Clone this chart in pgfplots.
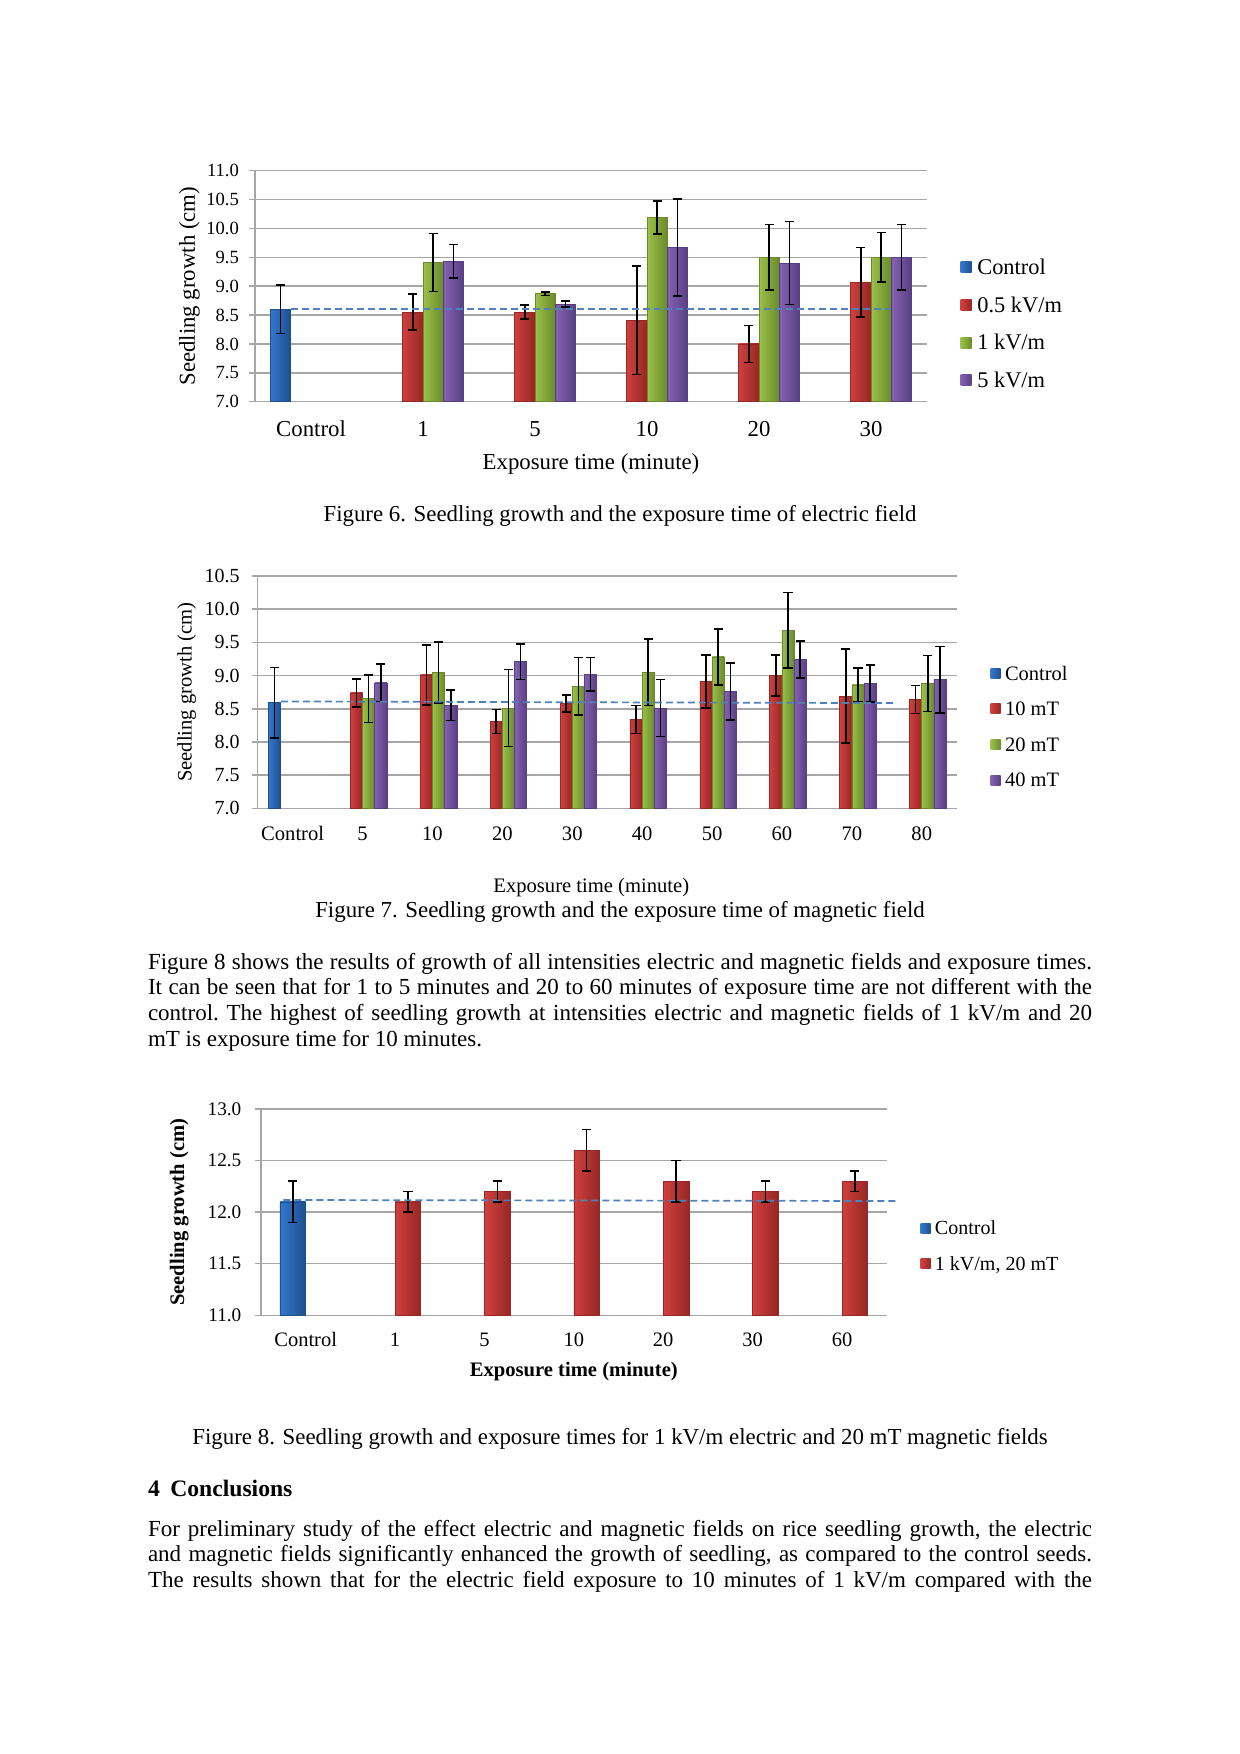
\documentclass[border=0pt]{standalone}
\usepackage{fontspec}
\setmainfont{Liberation Serif}
\usepackage{pgfplots}
\pgfplotsset{compat=1.18}

\definecolor{gridgray}{HTML}{A6A6A6}
\definecolor{dashblue}{HTML}{4F81BD}
\definecolor{bluemid}{HTML}{3478CC}
\definecolor{bluelight}{HTML}{6AA8EE}
\definecolor{bluedark}{HTML}{1D4F8F}
\definecolor{redmid}{HTML}{D0403E}
\definecolor{redlight}{HTML}{EA6B69}
\definecolor{reddark}{HTML}{962725}
\definecolor{greenmid}{HTML}{9BC04A}
\definecolor{greenlight}{HTML}{C0DF7A}
\definecolor{greendark}{HTML}{6A8A2A}
\definecolor{purplemid}{HTML}{8462B0}
\definecolor{purplelight}{HTML}{A98BD2}
\definecolor{purpledark}{HTML}{5A3E84}

\tikzset{
  bblue/.style={draw=bluedark, line width=0.3pt, left color=bluemid, middle color=bluelight, right color=bluedark},
  bred/.style={draw=reddark, line width=0.3pt, left color=redmid, middle color=redlight, right color=reddark},
  bgreen/.style={draw=greendark, line width=0.3pt, left color=greenmid, middle color=greenlight, right color=greendark},
  bpurple/.style={draw=purpledark, line width=0.3pt, left color=purplemid, middle color=purplelight, right color=purpledark},
}

\pgfplotsset{
  pagechart/.style={
    scale only axis, anchor=south west,
    axis x line*=bottom, axis y line*=left,
    axis line style={draw=gridgray, line width=0.75pt},
    ymajorgrids, major grid style={draw=gridgray, line width=0.75pt},
    tick align=outside, major tick length=2.8pt,
    xtick style={draw=none}, ytick style={draw=gridgray, line width=0.75pt},
    ybar=0pt, clip=false,
    yticklabel style={/pgf/number format/fixed, /pgf/number format/fixed zerofill, /pgf/number format/precision=1, /pgf/number format/assume math mode=true},
    legend cell align=left,
    legend style={draw=none, fill=none, inner sep=0pt, outer sep=0pt, row sep=0pt},
  },
  eb/.style={error bars/y dir=both, error bars/y explicit,
    error bars/error bar style={black, line width=0.8pt},
    error bars/error mark options={black, rotate=90, mark size=2.3pt, line width=0.8pt}},
  sqA/.style={legend image code/.code={\path[##1,draw=none] (0pt,-2.75pt) rectangle (5.5pt,2.75pt);}},
  sqB/.style={legend image code/.code={\path[##1,draw=none] (0pt,-2.5pt) rectangle (5pt,2.5pt);}},
  dline/.style={sharp plot, no markers, forget plot, draw=dashblue, line width=0.85pt, dash pattern=on 3.5pt off 2pt},
}

\begin{document}
\begin{tikzpicture}
\fill[white] (0pt,0pt) rectangle (620pt,-877pt);
\path[use as bounding box] (0pt,0pt) rectangle (620pt,-877pt);

% ---------------- Figure 6 ----------------
\begin{axis}[pagechart,
  at={(127.5pt,-200.85pt)},
  width=336pt, height=115.5pt,
  xmin=-0.5, xmax=5.5, ymin=7, ymax=11, ytick={7,7.5,8,8.5,9,9.5,10,10.5,11},
  xtick={0,1,2,3,4,5}, xticklabels={Control,1,5,10,20,30},
  bar width=10.15pt,
  s0/.style={bblue, bar shift=-15.225pt}, s1/.style={bred, bar shift=-5.075pt},
  s2/.style={bgreen, bar shift=5.075pt}, s3/.style={bpurple, bar shift=15.225pt},
  yticklabel style={font=\fontsize{9.3}{11}\selectfont, anchor=east, inner sep=0pt, xshift=-5.05pt},
  xticklabel style={font=\fontsize{11.4}{13}\selectfont, anchor=base, inner sep=0pt, yshift=-14.35pt},
  ylabel={Seedling growth (cm)}, xlabel={Exposure time (minute)},
  label style={font=\fontsize{11.4}{13}\selectfont},
  y label style={at={([xshift=-32.85pt]axis description cs:0,0.5)}, anchor=center, inner sep=0pt},
  x label style={at={([yshift=-33.65pt]axis description cs:0.5,0)}, anchor=base, inner sep=0pt},
  legend style={at={([xshift=16.85pt,yshift=-38.9pt]rel axis cs:1,1)}, anchor=north west,
    font=\fontsize{11.2}{13}\selectfont, column sep=2.8pt,
    nodes={inner sep=0pt, text height=13.1pt, text depth=5.7pt}},
]
\addplot[s0, sqA, eb] coordinates {(0,8.60) +- (0,0.42)};
\addlegendentry{Control}
\addplot[s1, sqA, eb] coordinates {(1,8.55) +- (0,0.31)};
\addlegendentry{0.5 kV/m}
\addplot[s2, sqA, eb] coordinates {(1,9.41) +- (0,0.50)};
\addlegendentry{1 kV/m}
\addplot[s3, sqA, eb] coordinates {(1,9.43) +- (0,0.29)};
\addlegendentry{5 kV/m}
% 0.5 kV/m
\addplot[s1, eb, forget plot] coordinates {(2,8.55) +- (0,0.12)};
\addplot[s1, eb, forget plot] coordinates {(3,8.41) +- (0,0.94)};
\addplot[s1, eb, forget plot] coordinates {(4,8.00) +- (0,0.32)};
\addplot[s1, eb, forget plot] coordinates {(5,9.07) +- (0,0.60)};
% 1 kV/m
\addplot[s2, eb, forget plot] coordinates {(2,8.87) +- (0,0.03)};
\addplot[s2, eb, forget plot] coordinates {(3,10.19) +- (0,0.29)};
\addplot[s2, eb, forget plot] coordinates {(4,9.50) +- (0,0.57)};
\addplot[s2, eb, forget plot] coordinates {(5,9.50) +- (0,0.43)};
% 5 kV/m
\addplot[s3, eb, forget plot] coordinates {(2,8.69) +- (0,0.05)};
\addplot[s3, eb, forget plot] coordinates {(3,9.67) +- (0,0.84)};
\addplot[s3, eb, forget plot] coordinates {(4,9.40) +- (0,0.72)};
\addplot[s3, eb, forget plot] coordinates {(5,9.50) +- (0,0.57)};
\addplot[dline] coordinates {(-0.18,8.60) (5.17,8.60)};
\end{axis}

\node[anchor=base, inner sep=0pt, font=\fontsize{11.43}{14}\selectfont] at (310pt,-260.8pt)
  {Figure 6. Seedling growth and the exposure time of electric field};

% ---------------- Figure 7 ----------------
\begin{axis}[pagechart,
  at={(128.85pt,-404.15pt)},
  width=349.5pt, height=116.15pt,
  xmin=-0.5, xmax=9.5, ymin=7, ymax=10.5, ytick={7,7.5,8,8.5,9,9.5,10,10.5},
  xtick={0,1,2,3,4,5,6,7,8,9}, xticklabels={Control,5,10,20,30,40,50,60,70,80},
  bar width=6.1pt,
  s0/.style={bblue, bar shift=-9.15pt}, s1/.style={bred, bar shift=-3.05pt},
  s2/.style={bgreen, bar shift=3.05pt}, s3/.style={bpurple, bar shift=9.15pt},
  yticklabel style={font=\fontsize{10}{12}\selectfont, anchor=east, inner sep=0pt, xshift=-6.05pt},
  xticklabel style={font=\fontsize{10.3}{12}\selectfont, anchor=base, inner sep=0pt, yshift=-13.05pt},
  ylabel={Seedling growth (cm)}, xlabel={Exposure time (minute)},
  label style={font=\fontsize{10.3}{12}\selectfont},
  y label style={at={([xshift=-35.5pt]axis description cs:0,0.5)}, anchor=center, inner sep=0pt},
  x label style={at={([xshift=-7.95pt,yshift=-42.2pt]axis description cs:0.5,0)}, anchor=base, inner sep=0pt},
  legend style={at={([xshift=17pt,yshift=-39.75pt]rel axis cs:1,1)}, anchor=north west,
    font=\fontsize{10.25}{12}\selectfont, column sep=2.15pt,
    nodes={inner sep=0pt, text height=12.3pt, text depth=5.5pt}},
]
\addplot[s0, sqB, eb] coordinates {(0,8.59) +- (0,0.53)};
\addlegendentry{Control}
\addplot[s1, sqB, eb] coordinates {(1,8.74) +- (0,0.21)};
\addlegendentry{10 mT}
\addplot[s2, sqB, eb] coordinates {(1,8.65) +- (0,0.36)};
\addlegendentry{20 mT}
\addplot[s3, sqB, eb] coordinates {(1,8.89) +- (0,0.28)};
\addlegendentry{40 mT}
% 10 mT
\addplot[s1, eb, forget plot] coordinates {(2,9.01) +- (0,0.45)};
\addplot[s1, eb, forget plot] coordinates {(3,8.31) +- (0,0.18)};
\addplot[s1, eb, forget plot] coordinates {(4,8.58) +- (0,0.13)};
\addplot[s1, eb, forget plot] coordinates {(5,8.34) +- (0,0.21)};
\addplot[s1, eb, forget plot] coordinates {(6,8.91) +- (0,0.40)};
\addplot[s1, eb, forget plot] coordinates {(7,9.00) +- (0,0.31)};
\addplot[s1, eb, forget plot] coordinates {(8,8.69) +- (0,0.71)};
\addplot[s1, eb, forget plot] coordinates {(9,8.64) +- (0,0.21)};
% 20 mT
\addplot[s2, eb, forget plot] coordinates {(2,9.05) +- (0,0.46)};
\addplot[s2, eb, forget plot] coordinates {(3,8.51) +- (0,0.58)};
\addplot[s2, eb, forget plot] coordinates {(4,8.84) +- (0,0.43)};
\addplot[s2, eb, forget plot] coordinates {(5,9.05) +- (0,0.50)};
\addplot[s2, eb, forget plot] coordinates {(6,9.28) +- (0,0.42)};
\addplot[s2, eb, forget plot] coordinates {(7,9.68) +- (0,0.57)};
\addplot[s2, eb, forget plot] coordinates {(8,8.86) +- (0,0.25)};
\addplot[s2, eb, forget plot] coordinates {(9,8.88) +- (0,0.42)};
% 40 mT
\addplot[s3, eb, forget plot] coordinates {(2,8.55) +- (0,0.23)};
\addplot[s3, eb, forget plot] coordinates {(3,9.21) +- (0,0.27)};
\addplot[s3, eb, forget plot] coordinates {(4,9.02) +- (0,0.25)};
\addplot[s3, eb, forget plot] coordinates {(5,8.51) +- (0,0.43)};
\addplot[s3, eb, forget plot] coordinates {(6,8.76) +- (0,0.43)};
\addplot[s3, eb, forget plot] coordinates {(7,9.24) +- (0,0.28)};
\addplot[s3, eb, forget plot] coordinates {(8,8.88) +- (0,0.28)};
\addplot[s3, eb, forget plot] coordinates {(9,8.94) +- (0,0.50)};
\addplot[dline] coordinates {(-0.17,8.61) (8.64,8.585)};
\end{axis}

\node[anchor=base, inner sep=0pt, font=\fontsize{11.43}{14}\selectfont] at (310pt,-458.5pt)
  {Figure 7. Seedling growth and the exposure time of magnetic field};

% ---------------- Paragraph ----------------
\node[anchor=base west, inner sep=0pt, text width=472pt, align=justify,
  font=\fontsize{11.5}{12.85}\selectfont] at (73.8pt,-484.5pt)
  {\frenchspacing\hyphenpenalty=10000\exhyphenpenalty=10000 Figure 8 shows the results of growth of all intensities electric and magnetic fields and exposure times.\linebreak It can be seen that for 1 to 5 minutes and 20 to 60 minutes of exposure time are not different with the\linebreak control. The highest of seedling growth at intensities electric and magnetic fields of 1 kV/m and 20\linebreak mT is exposure time for 10 minutes.};

% ---------------- Figure 8 ----------------
\begin{axis}[pagechart,
  at={(130.5pt,-657.65pt)},
  width=312.85pt, height=103.15pt,
  xmin=-0.5, xmax=6.5, ymin=11, ymax=13, ytick={11,11.5,12,12.5,13},
  xtick={0,1,2,3,4,5,6}, xticklabels={Control,1,5,10,20,30,60},
  bar width=12.85pt,
  s0/.style={bblue, bar shift=-6.425pt}, s1/.style={bred, bar shift=6.425pt},
  yticklabel style={font=\fontsize{9.6}{12}\selectfont, anchor=east, inner sep=0pt, xshift=-6.85pt},
  xticklabel style={font=\fontsize{10.25}{12}\selectfont, anchor=base, inner sep=0pt, yshift=-12.55pt},
  ylabel={Seedling growth (cm)}, xlabel={Exposure time (minute)},
  label style={font=\fontsize{10.3}{12}\selectfont\bfseries},
  y label style={at={([xshift=-40.85pt]axis description cs:0,0.5)}, anchor=center, inner sep=0pt},
  x label style={at={([yshift=-30.7pt]axis description cs:0.5,0)}, anchor=base, inner sep=0pt},
  legend style={at={([xshift=17pt,yshift=-50.7pt]rel axis cs:1,1)}, anchor=north west,
    font=\fontsize{10}{12}\selectfont, column sep=2.15pt,
    nodes={inner sep=0pt, text height=12.2pt, text depth=5.65pt}},
]
\addplot[s0, sqB, eb] coordinates {(0,12.1) +- (0,0.2)};
\addlegendentry{Control}
\addplot[s1, sqB, eb] coordinates {(1,12.1) +- (0,0.1)};
\addlegendentry{1 kV/m, 20 mT}
\addplot[s1, eb, forget plot] coordinates {(2,12.2) +- (0,0.1)};
\addplot[s1, eb, forget plot] coordinates {(3,12.6) +- (0,0.2)};
\addplot[s1, eb, forget plot] coordinates {(4,12.3) +- (0,0.2)};
\addplot[s1, eb, forget plot] coordinates {(5,12.2) +- (0,0.1)};
\addplot[s1, eb, forget plot] coordinates {(6,12.3) +- (0,0.1)};
\addplot[dline] coordinates {(-0.25,12.118) (6.63,12.108)};
\end{axis}

\node[anchor=base, inner sep=0pt, font=\fontsize{11.45}{14}\selectfont] at (310pt,-722pt)
  {Figure 8. Seedling growth and exposure times for 1 kV/m electric and 20 mT magnetic fields};

\node[anchor=base west, inner sep=0pt, font=\fontsize{11.8}{14}\selectfont\bfseries] at (73.8pt,-748pt)
  {4\hspace{0.45em}Conclusions};

\node[anchor=base west, inner sep=0pt, text width=472pt, align=justify,
  font=\fontsize{11.5}{12.75}\selectfont] at (73.8pt,-768pt)
  {\frenchspacing\hyphenpenalty=10000\exhyphenpenalty=10000\parfillskip=0pt For preliminary study of the effect electric and magnetic fields on rice seedling growth, the electric\linebreak and magnetic fields significantly enhanced the growth of seedling, as compared to the control seeds.\linebreak The results shown that for the electric field exposure to 10 minutes of 1 kV/m compared with the\par};

\end{tikzpicture}
\end{document}
